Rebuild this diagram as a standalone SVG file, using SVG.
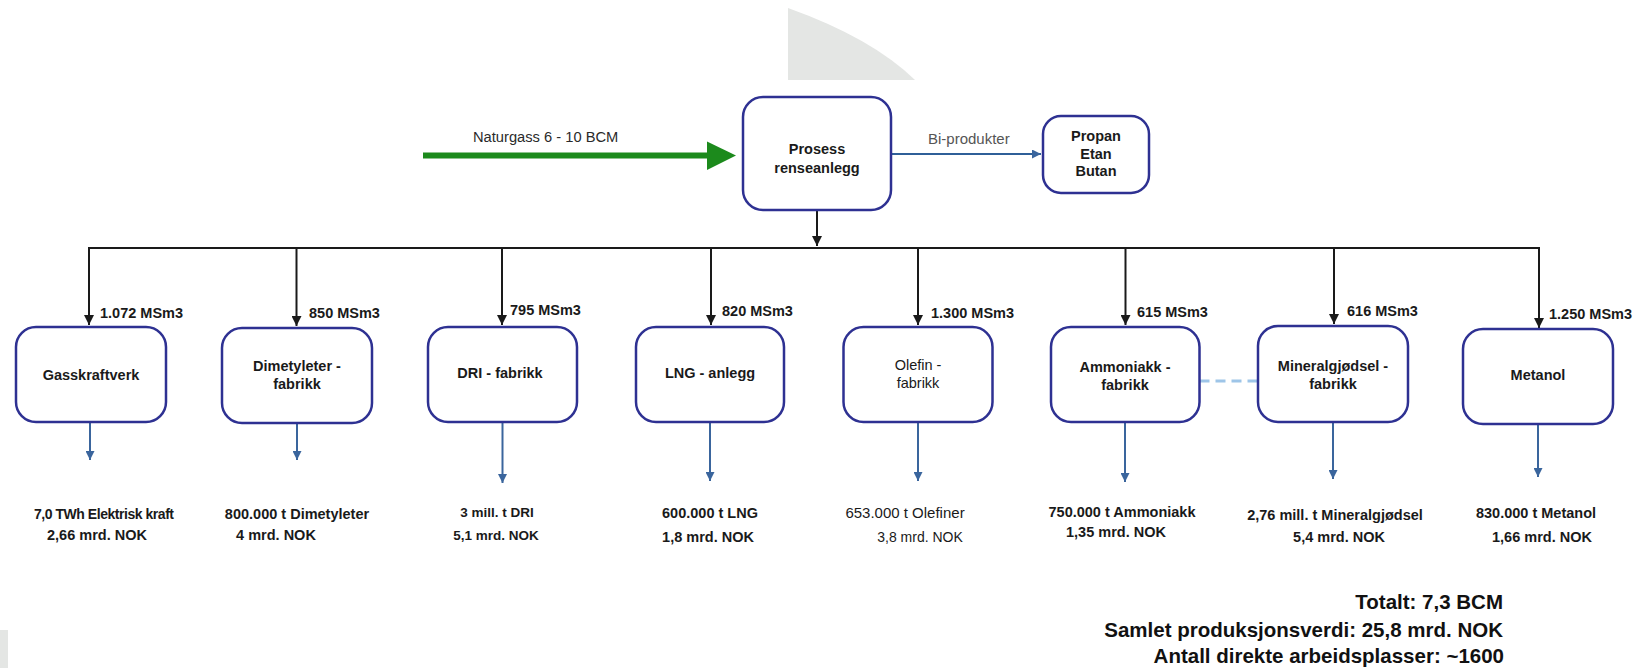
<svg xmlns="http://www.w3.org/2000/svg" width="1643" height="668" viewBox="0 0 1643 668">
<defs>
<style>
.box{fill:#fff;stroke:#2e3192;stroke-width:2.5}
.bt{font-family:"Liberation Sans",Arial,sans-serif;font-size:14.5px;font-weight:bold;fill:#1a1a1a;text-anchor:middle}
.reg{font-weight:normal}
.sm{font-size:13.5px}
.lbl{font-family:"Liberation Sans",Arial,sans-serif;font-size:14.5px;font-weight:bold;fill:#1a1a1a}
.blk{stroke:#1a1a1a;stroke-width:2;fill:none}
.blu{stroke:#3a659d;stroke-width:2;fill:none}
.tot{font-family:"Liberation Sans",Arial,sans-serif;font-size:20.5px;font-weight:bold;fill:#111;text-anchor:end}
</style>
<marker id="ab" markerUnits="userSpaceOnUse" markerWidth="10" markerHeight="10" refX="10" refY="5" orient="auto"><path d="M0,0 L10,5 L0,10 z" fill="#1a1a1a"/></marker>
<marker id="au" markerUnits="userSpaceOnUse" markerWidth="9" markerHeight="9" refX="9" refY="4.5" orient="auto"><path d="M0,0 L9,4.5 L0,9 z" fill="#3a659d"/></marker>
</defs>
<rect width="1643" height="668" fill="#fff"/>
<path d="M788,8 Q872,38 915,80 L788,80 Z" fill="#e4e6e4"/>
<rect x="0" y="630" width="8" height="38" fill="#e4e6e4"/>

<g id="connectors">
<line x1="423" y1="155.5" x2="709" y2="155.5" stroke="#1c8a1c" stroke-width="6"/>
<path d="M707,141.5 L736,155.5 L707,170 z" fill="#1c8a1c"/>
<line x1="891" y1="154" x2="1041" y2="154" stroke="#2f5f98" stroke-width="2" marker-end="url(#au)"/>
<line x1="817" y1="210" x2="817" y2="246" class="blk" marker-end="url(#ab)"/>
<line x1="88" y1="248" x2="1540" y2="248" class="blk"/>
<line x1="89" y1="248" x2="89" y2="325" class="blk" marker-end="url(#ab)"/>
<line x1="296.5" y1="248" x2="296.5" y2="326" class="blk" marker-end="url(#ab)"/>
<line x1="502" y1="248" x2="502" y2="325" class="blk" marker-end="url(#ab)"/>
<line x1="711" y1="248" x2="711" y2="325" class="blk" marker-end="url(#ab)"/>
<line x1="918" y1="248" x2="918" y2="325" class="blk" marker-end="url(#ab)"/>
<line x1="1125.5" y1="248" x2="1125.5" y2="325" class="blk" marker-end="url(#ab)"/>
<line x1="1334" y1="248" x2="1334" y2="324" class="blk" marker-end="url(#ab)"/>
<line x1="1539" y1="248" x2="1539" y2="328" class="blk" marker-end="url(#ab)"/>
<line x1="90" y1="422" x2="90" y2="460" class="blu" marker-end="url(#au)"/>
<line x1="297" y1="423" x2="297" y2="460" class="blu" marker-end="url(#au)"/>
<line x1="502.5" y1="422" x2="502.5" y2="483" class="blu" marker-end="url(#au)"/>
<line x1="710" y1="422" x2="710" y2="481" class="blu" marker-end="url(#au)"/>
<line x1="918" y1="422" x2="918" y2="481" class="blu" marker-end="url(#au)"/>
<line x1="1125" y1="422" x2="1125" y2="482" class="blu" marker-end="url(#au)"/>
<line x1="1333" y1="422" x2="1333" y2="479" class="blu" marker-end="url(#au)"/>
<line x1="1538" y1="424" x2="1538" y2="477" class="blu" marker-end="url(#au)"/>
<line x1="1199.5" y1="381" x2="1258" y2="381" stroke="#9ec5e8" stroke-width="3" stroke-dasharray="10 6"/>
</g>

<g id="naturgass-label"><text x="473" y="142" font-family="Liberation Sans, Arial, sans-serif" font-size="14.7" fill="#2a2a2a">Naturgass 6 - 10 BCM</text></g>
<g id="biprodukter-label"><text x="928" y="144" font-family="Liberation Sans, Arial, sans-serif" font-size="15" fill="#555">Bi-produkter</text></g>

<g id="prosess"><rect class="box" x="743" y="97" width="148" height="113" rx="20"/><text class="bt" x="817" y="154">Prosess</text><text class="bt" x="817" y="173">renseanlegg</text></g>
<g id="propan"><rect class="box" x="1043" y="116" width="106" height="77" rx="18"/><text class="bt" x="1096" y="141">Propan</text><text class="bt" x="1096" y="159">Etan</text><text class="bt" x="1096" y="176">Butan</text></g>

<g id="gasskraftverk"><rect class="box" x="16" y="327" width="150" height="95" rx="20"/><text class="bt" x="91" y="380">Gasskraftverk</text></g>
<g id="dimetyleter"><rect class="box" x="222" y="328" width="150" height="95" rx="20"/><text class="bt" x="297" y="371">Dimetyleter -</text><text class="bt" x="297" y="389">fabrikk</text></g>
<g id="dri"><rect class="box" x="428" y="327" width="149" height="95" rx="20"/><text class="bt" x="500" y="378">DRI - fabrikk</text></g>
<g id="lng"><rect class="box" x="636" y="327" width="148" height="95" rx="20"/><text class="bt" x="710" y="378">LNG - anlegg</text></g>
<g id="olefin"><rect class="box" x="843.5" y="327" width="149" height="95" rx="20"/><text class="bt reg" x="918" y="370">Olefin -</text><text class="bt reg" x="918" y="388">fabrikk</text></g>
<g id="ammoniakk"><rect class="box" x="1051" y="327" width="148.5" height="95" rx="20"/><text class="bt" x="1125" y="372">Ammoniakk -</text><text class="bt" x="1125" y="390">fabrikk</text></g>
<g id="mineralgjodsel"><rect class="box" x="1258" y="326" width="150" height="96" rx="20"/><text class="bt" x="1333" y="371">Mineralgjødsel -</text><text class="bt" x="1333" y="389">fabrikk</text></g>
<g id="metanol"><rect class="box" x="1463" y="329" width="150" height="95" rx="20"/><text class="bt" x="1538" y="380">Metanol</text></g>

<g id="flow-labels" class="lbl">
<text x="100" y="318">1.072 MSm3</text>
<text x="309" y="318">850 MSm3</text>
<text x="510" y="315">795 MSm3</text>
<text x="722" y="316">820 MSm3</text>
<text x="931" y="318">1.300 MSm3</text>
<text x="1137" y="317">615 MSm3</text>
<text x="1347" y="316">616 MSm3</text>
<text x="1549" y="319">1.250 MSm3</text>
</g>

<g id="outputs">
<text class="bt" x="104" y="519" style="font-size:14px" textLength="140" lengthAdjust="spacing">7,0 TWh Elektrisk kraft</text>
<text class="bt" x="97" y="540">2,66 mrd. NOK</text>
<text class="bt" x="297" y="519">800.000 t Dimetyleter</text>
<text class="bt" x="276" y="540">4 mrd. NOK</text>
<text class="bt sm" x="497" y="517">3 mill. t DRI</text>
<text class="bt sm" x="496" y="540">5,1 mrd. NOK</text>
<text class="bt" x="710" y="518">600.000 t LNG</text>
<text class="bt" x="708" y="542">1,8 mrd. NOK</text>
<text class="bt reg" x="905" y="518" style="font-size:15px">653.000 t Olefiner</text>
<text class="bt reg" x="920" y="542" style="font-size:14px">3,8 mrd. NOK</text>
<text class="bt" x="1122" y="517">750.000 t Ammoniakk</text>
<text class="bt" x="1116" y="537">1,35 mrd. NOK</text>
<text class="bt" x="1335" y="520">2,76 mill. t Mineralgjødsel</text>
<text class="bt" x="1339" y="542">5,4 mrd. NOK</text>
<text class="bt" x="1536" y="518">830.000 t Metanol</text>
<text class="bt" x="1542" y="542">1,66 mrd. NOK</text>
</g>

<g id="totals">
<text class="tot" x="1503" y="609">Totalt: 7,3 BCM</text>
<text class="tot" x="1503" y="637">Samlet produksjonsverdi: 25,8 mrd. NOK</text>
<text class="tot" x="1504" y="663">Antall direkte arbeidsplasser: ~1600</text>
</g>
</svg>
